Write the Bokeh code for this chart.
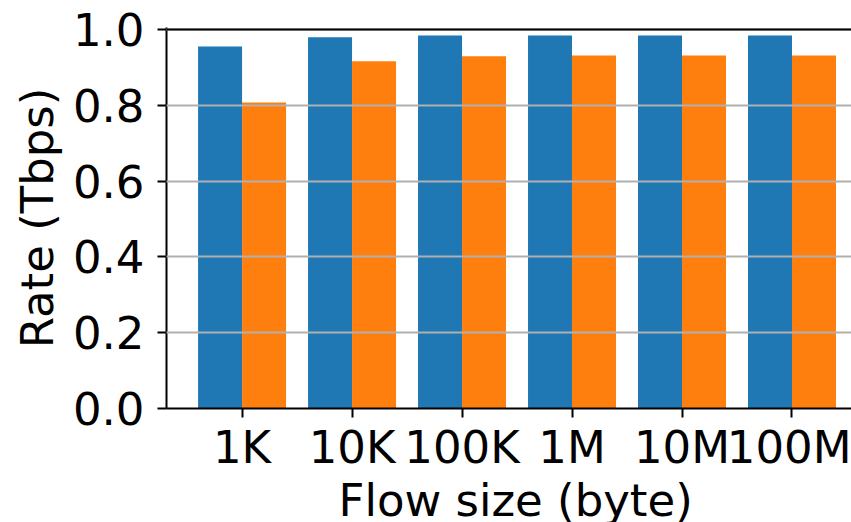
from bokeh.plotting import figure
from bokeh.models import FixedTicker, PrintfTickFormatter, Span, Range1d, Title
from bokeh.embed import file_html
from bokeh.resources import INLINE

categories = ["1K", "10K", "100K", "1M", "10M", "100M"]
series_a = [0.955, 0.979, 0.984, 0.984, 0.984, 0.984]
series_b = [0.807, 0.916, 0.929, 0.931, 0.931, 0.931]
y_ticks = [0.0, 0.2, 0.4, 0.6, 0.8, 1.0]

idx = list(range(len(categories)))
bar_w = 0.4

p = figure(width=851, height=522, output_backend="svg", toolbar_location=None,
           x_range=Range1d(-0.687, 5.541), y_range=Range1d(0, 1.005),
           min_border_left=166, min_border_top=27, min_border_bottom=114,
           min_border_right=0)
p.outline_line_color = None
p.background_fill_color = "white"
p.border_fill_color = "white"

p.vbar(x=[i - bar_w / 2 for i in idx], top=series_a, width=bar_w, bottom=0,
       fill_color="#1f77b4", line_color=None)
p.vbar(x=[i + bar_w / 2 for i in idx], top=series_b, width=bar_w, bottom=0,
       fill_color="#ff7f0e", line_color=None)

font = "DejaVu Sans"
fs = "45px"

p.xaxis.ticker = FixedTicker(ticks=idx)
p.xaxis.major_label_overrides = {i: c for i, c in zip(idx, categories)}
p.yaxis.ticker = FixedTicker(ticks=y_ticks)
p.yaxis.formatter = PrintfTickFormatter(format="%.1f")

for ax in (p.xaxis, p.yaxis):
    ax.axis_line_width = 2
    ax.axis_line_color = "black"
    ax.major_tick_line_width = 2
    ax.major_tick_line_color = "black"
    ax.major_tick_out = 9
    ax.major_tick_in = 0
    ax.minor_tick_line_color = None
    ax.major_label_text_font = font
    ax.major_label_text_font_size = fs
    ax.major_label_text_color = "black"
    ax.axis_label_text_font = font
    ax.axis_label_text_font_size = fs
    ax.axis_label_text_font_style = "normal"
    ax.axis_label_text_color = "black"

p.yaxis.axis_label = "Rate (Tbps)"
p.xaxis.major_label_standoff = 3
p.yaxis.major_label_standoff = 13
p.yaxis.axis_label_standoff = 6

xt = Title(text="Flow size (byte)", align="left", offset=172, standoff=-9,
           text_font=font, text_font_size=fs, text_font_style="normal",
           text_color="black")
p.add_layout(xt, "below")

p.xgrid.grid_line_color = None
p.ygrid.ticker = FixedTicker(ticks=y_ticks)
p.ygrid.grid_line_color = "#b0b0b0"
p.ygrid.grid_line_width = 2
p.ygrid.level = "annotation"

p.add_layout(Span(location=1.0, dimension="width", line_color="black",
                  line_width=2, level="overlay"))

open("out.html", "w").write(file_html(p, INLINE))
